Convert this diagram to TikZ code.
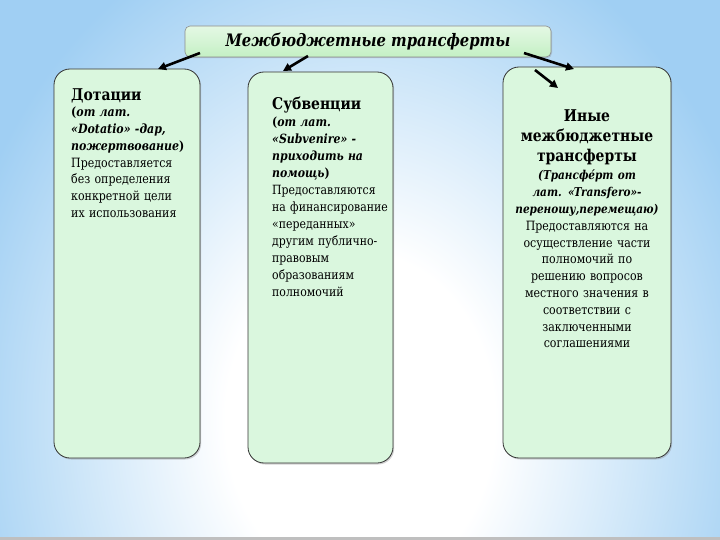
\documentclass[tikz,border=0pt]{standalone}
\usepackage{fontspec}
\newfontfamily\tnr{DejaVu Serif}[FakeStretch=0.86]
\usetikzlibrary{shadows,arrows.meta,calc}
\definecolor{bgblue}{RGB}{160,207,243}
\definecolor{boxgreen}{RGB}{218,247,222}
\definecolor{titlegreen}{RGB}{196,240,196}
\pgfdeclareradialshading{bgshade}{\pgfpoint{0bp}{0bp}}{color(0bp)=(white); color(8bp)=(white); color(25bp)=(bgblue); color(50bp)=(bgblue)}
\newcommand\bisml[1]{{\fontsize{12.2}{16.8}\selectfont\textbf{\textit{#1}}}}
\begin{document}
\begin{tikzpicture}[x=1pt,y=-1pt,
  greenbox/.style={draw=black!80, line width=0.8pt, fill=boxgreen, rounded corners=16pt,
    drop shadow={shadow xshift=1.2pt, shadow yshift=-1.5pt, opacity=0.35}, inner sep=0pt, outer sep=0pt},
  titlebox/.style={draw=black!45, line width=0.6pt, top color=white!55!titlegreen, bottom color=titlegreen,
    rounded corners=5pt, drop shadow={shadow xshift=1pt, shadow yshift=-1.2pt, opacity=0.3}, inner sep=0pt, outer sep=0pt},
  arr/.style={line width=2.6pt, -{Triangle[length=8pt,width=8pt]}},
  hdr/.style={font=\tnr\fontsize{16.2}{20}\selectfont\bfseries, inner sep=0pt},
  bodyA/.style={font=\tnr\fontsize{12.8}{16.7}\selectfont, inner sep=0pt, align=left, text width=140pt},
  bodyB/.style={font=\tnr\fontsize{12.7}{17}\selectfont, inner sep=0pt, align=left, text width=140pt},
  bodyC/.style={font=\tnr\fontsize{12.8}{16.8}\selectfont, inner sep=0pt, align=center, text width=166pt},
  ttl/.style={font=\tnr\fontsize{17.2}{19}\selectfont\bfseries\itshape, inner sep=0pt}]
\useasboundingbox (0,0) rectangle (720,540);
\fill[bgblue] (0,0) rectangle (720,540);
\begin{scope}
  \clip (0,0) rectangle (720,540);
  \shade[shading=bgshade] (360,420) ellipse [x radius=420, y radius=520];
\end{scope}
\fill[black!25] (0,537) rectangle (720,540);

% boxes
\node[titlebox, minimum width=366pt, minimum height=31pt] (title) at (368,41.5) {};
\node[greenbox, minimum width=146pt, minimum height=389pt] (d) at (127,263.5) {};
\node[greenbox, minimum width=145pt, minimum height=391pt] (s) at (320.5,267.5) {};
\node[greenbox, minimum width=168pt, minimum height=391pt] (o) at (587,262.5) {};

% title text
\node[ttl, anchor=base] (tt) at (368,47) {Межбюджетные трансферты};

% box 1
\node[hdr, anchor=base west] (h1) at (71,101) {Дотации};
\node[bodyA, anchor=base west] (b1) at (71,117) {%
  \textbf{(\textit{от лат.}}\\
  \textbf{\textit{«Dotatio» -дар,}}\\
  \textbf{\textit{пожертвование})}\\
  Предоставляется\\
  без определения\\
  конкретной цели\\
  их использования};

% box 2
\node[hdr, anchor=base west] (h2) at (272,110) {Субвенции};
\node[bodyB, anchor=base west] (b2) at (272,127) {%
  \textbf{(\textit{от лат.}}\\
  \textbf{\textit{«Subvenire» -}}\\
  \textbf{\textit{приходить на}}\\
  \textbf{\textit{помощь})}\\
  Предоставляются\\
  на финансирование\\
  «переданных»\\
  другим публично-\\
  правовым\\
  образованиям\\
  полномочий};

% box 3
\node[hdr, anchor=base, align=center, text width=166pt] (h3) at (587,122) {Иные\\межбюджетные\\трансферты};
\node[bodyC, anchor=base] (b3) at (587,180) {%
  \bisml{(Трансфе́рт от}\\
  \bisml{лат. «Transfero»-}\\
  \bisml{переношу,перемещаю)}\\
  Предоставляются на\\
  осуществление части\\
  полномочий по\\
  решению вопросов\\
  местного значения в\\
  соответствии с\\
  заключенными\\
  соглашениями};

% arrows
\coordinate (a1s) at ($(title.south west)+(15,-4)$);
\coordinate (a1e) at ($(d.north east)+(-42,0)$);
\coordinate (a2s) at ($(title.south west)+(123,-1)$);
\coordinate (a2e) at ($(s.north west)+(35,-1)$);
\coordinate (a3s) at ($(title.south east)+(-27,-4)$);
\coordinate (a3e) at ($(o.north west)+(71,2)$);
\coordinate (a4s) at ($(o.north west)+(32,3)$);
\coordinate (a4e) at ($(o.north west)+(55,21)$);
\draw[arr] (a1s) -- (a1e);
\draw[arr] (a2s) -- (a2e);
\draw[arr] (a3s) -- (a3e);
\draw[arr] (a4s) -- (a4e);
\end{tikzpicture}
\end{document}
